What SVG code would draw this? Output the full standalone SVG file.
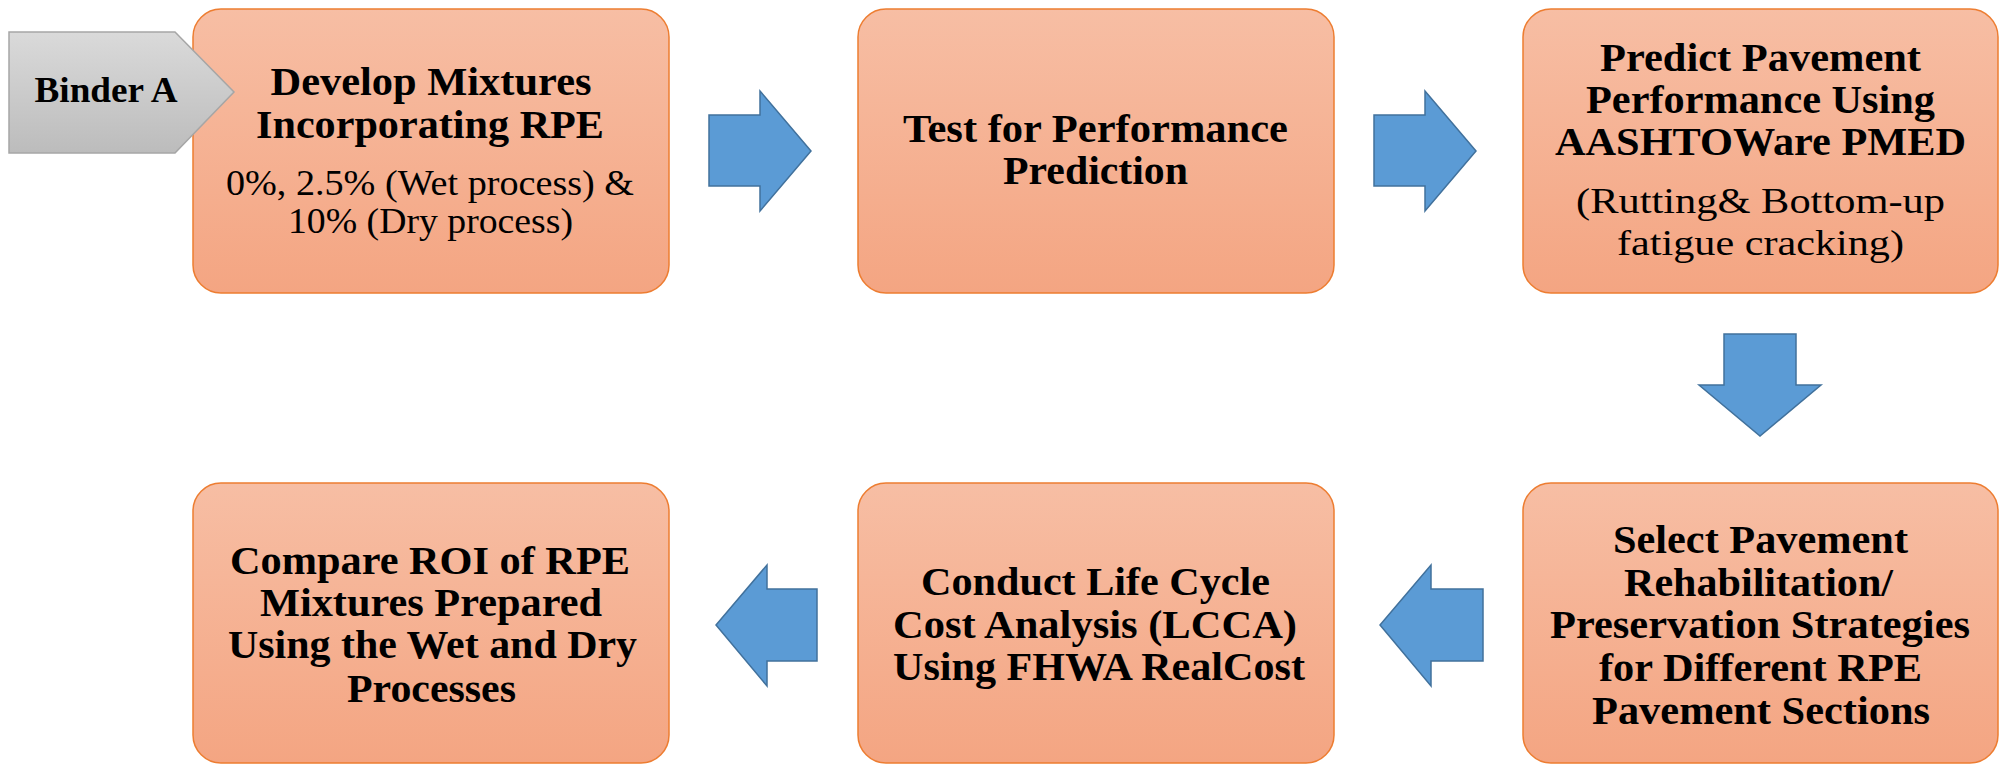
<svg xmlns="http://www.w3.org/2000/svg" width="2009" height="766" viewBox="0 0 2009 766">
<defs>
<linearGradient id="boxg" x1="0" y1="0" x2="0" y2="1">
<stop offset="0" stop-color="#f7bea4"/>
<stop offset="1" stop-color="#f4a582"/>
</linearGradient>
<linearGradient id="grayg" x1="0" y1="0" x2="0" y2="1">
<stop offset="0" stop-color="#dadada"/>
<stop offset="1" stop-color="#bcbcbc"/>
</linearGradient>
</defs>
<style>
.box{fill:url(#boxg);stroke:#ed7d31;stroke-width:1.5}
.arr{fill:#5b9bd5;stroke:#41719c;stroke-width:1.5;stroke-linejoin:miter}
text{font-family:'Liberation Serif','Times New Roman',Times,serif;fill:#000;text-anchor:middle}
.b{font-weight:bold;font-size:41px}
.r{font-weight:normal;font-size:36px}
</style>
<rect width="2009" height="766" fill="#ffffff"/>
<g id="n1">
<rect class="box" x="193" y="9" width="476" height="284" rx="28" ry="28"/>
<text class="b" x="431" y="95" textLength="321" lengthAdjust="spacingAndGlyphs">Develop Mixtures</text>
<text class="b" x="430" y="138" textLength="348" lengthAdjust="spacingAndGlyphs">Incorporating RPE</text>
<text class="r" x="430" y="195" style="font-size:35px" textLength="408" lengthAdjust="spacingAndGlyphs">0%, 2.5% (Wet process) &amp;</text>
<text class="r" x="430.5" y="233" style="font-size:35px" textLength="285" lengthAdjust="spacingAndGlyphs">10% (Dry process)</text>
</g>
<g id="binderA">
<polygon points="9,32 175,32 234,92 175,153 9,153" fill="url(#grayg)" stroke="#a6a6a6" stroke-width="1.5"/>
<text class="b" x="106" y="102" style="font-size:36px" textLength="143" lengthAdjust="spacingAndGlyphs">Binder A</text>
</g>
<g id="n2">
<rect class="box" x="858" y="9" width="476" height="284" rx="28" ry="28"/>
<text class="b" x="1095.5" y="142" textLength="385" lengthAdjust="spacingAndGlyphs">Test for Performance</text>
<text class="b" x="1095.5" y="184" textLength="185" lengthAdjust="spacingAndGlyphs">Prediction</text>
</g>
<g id="n3">
<rect class="box" x="1523" y="9" width="475" height="284" rx="28" ry="28"/>
<text class="b" x="1760.5" y="71" textLength="321" lengthAdjust="spacingAndGlyphs">Predict Pavement</text>
<text class="b" x="1760.5" y="113" textLength="349" lengthAdjust="spacingAndGlyphs">Performance Using</text>
<text class="b" x="1760.5" y="155" textLength="411" lengthAdjust="spacingAndGlyphs">AASHTOWare PMED</text>
<text class="r" x="1760.5" y="213" textLength="369" lengthAdjust="spacingAndGlyphs">(Rutting&amp; Bottom-up</text>
<text class="r" x="1760.5" y="255" textLength="287" lengthAdjust="spacingAndGlyphs">fatigue cracking)</text>
</g>
<g id="n4">
<rect class="box" x="193" y="483" width="476" height="280" rx="28" ry="28"/>
<text class="b" x="430" y="574" textLength="400" lengthAdjust="spacingAndGlyphs">Compare ROI of RPE</text>
<text class="b" x="431" y="616" textLength="342" lengthAdjust="spacingAndGlyphs">Mixtures Prepared</text>
<text class="b" x="432.5" y="658" textLength="409" lengthAdjust="spacingAndGlyphs">Using the Wet and Dry</text>
<text class="b" x="431.5" y="702" textLength="169" lengthAdjust="spacingAndGlyphs">Processes</text>
</g>
<g id="n5">
<rect class="box" x="858" y="483" width="476" height="280" rx="28" ry="28"/>
<text class="b" x="1095.5" y="595" textLength="349" lengthAdjust="spacingAndGlyphs">Conduct Life Cycle</text>
<text class="b" x="1095" y="638" textLength="404" lengthAdjust="spacingAndGlyphs">Cost Analysis (LCCA)</text>
<text class="b" x="1099" y="680" textLength="412" lengthAdjust="spacingAndGlyphs">Using FHWA RealCost</text>
</g>
<g id="n6">
<rect class="box" x="1523" y="483" width="475" height="280" rx="28" ry="28"/>
<text class="b" x="1760.5" y="553" textLength="295" lengthAdjust="spacingAndGlyphs">Select Pavement</text>
<text class="b" x="1758.5" y="596" textLength="269" lengthAdjust="spacingAndGlyphs">Rehabilitation/</text>
<text class="b" x="1760" y="638" textLength="420" lengthAdjust="spacingAndGlyphs">Preservation Strategies</text>
<text class="b" x="1760.5" y="681" textLength="323" lengthAdjust="spacingAndGlyphs">for Different RPE</text>
<text class="b" x="1761" y="724" textLength="338" lengthAdjust="spacingAndGlyphs">Pavement Sections</text>
</g>
<g id="connectors">
<polygon class="arr" points="709,115 760,115 760,91 811,151 760,211 760,186 709,186"/>
<polygon class="arr" points="1374,115 1425,115 1425,91 1476,151 1425,211 1425,186 1374,186"/>
<polygon class="arr" points="1724,334 1796,334 1796,385 1821,385 1760,436 1699,385 1724,385"/>
<polygon class="arr" points="1483,589 1431,589 1431,565 1380,625 1431,686 1431,661 1483,661"/>
<polygon class="arr" points="817,589 767,589 767,565 716,625 767,686 767,661 817,661"/>
</g>
</svg>
